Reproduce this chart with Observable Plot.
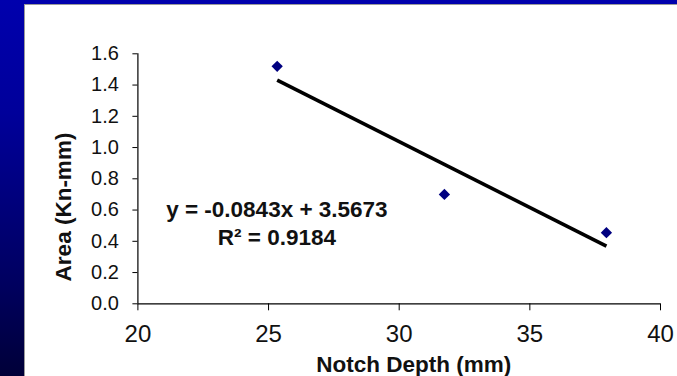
<!DOCTYPE html>
<html>
<head>
<meta charset="utf-8">
<script src="https://cdn.jsdelivr.net/npm/d3@7"></script>
<script src="https://cdn.jsdelivr.net/npm/@observablehq/plot@0.6"></script>
<style>
  html, body { margin: 0; padding: 0; }
  body {
    width: 677px; height: 376px; overflow: hidden; position: relative;
    background: linear-gradient(to bottom, #0000ad 0%, #00009a 30%, #000060 75%, #000038 100%);
    font-family: "Liberation Sans", Arial, sans-serif;
  }
  #panel {
    position: absolute; left: 24px; top: 4px; width: 653px; height: 372px;
    box-sizing: border-box; background: #fff;
    border-top: 1px solid #9a9a9a; border-left: 1px solid #9a9a9a;
  }
  #panel svg { display: block; }
</style>
</head>
<body>
<div id="panel"></div>
<script>
// Measured specimens: notch depth vs. absorbed area
const notchDepth = [25.33, 31.73, 37.93];
const area = [1.52, 0.70, 0.455];

// Linear trendline as reported
const slope = -0.0843;
const intercept = 3.5673;
const rSquared = 0.9184;

const xTicks = [20, 25, 30, 35, 40];
const yTicks = [0, 0.2, 0.4, 0.6, 0.8, 1.0, 1.2, 1.4, 1.6];
const xLabel = "Notch Depth (mm)";
const yLabel = "Area (Kn-mm)";

const points = notchDepth.map((d, i) => ({depth: d, area: area[i]}));
const trend = d3.extent(notchDepth).map(d => ({depth: d, area: slope * d + intercept}));
const eqText = `y = ${slope.toFixed(4)}x + ${intercept.toFixed(4)}\nR\u00B2 = ${rSquared.toFixed(4)}`;

const font = "'Liberation Sans', Arial, sans-serif";
const xDomain = [xTicks[0], xTicks[xTicks.length - 1]];
const yDomain = [yTicks[0], yTicks[yTicks.length - 1]];

const chart = Plot.plot({
  width: 652,
  height: 371,
  marginLeft: 112.4,
  marginRight: 17,
  marginTop: 48.3,
  marginBottom: 72.7,
  style: {background: "transparent", fontFamily: font, color: "#000", overflow: "visible"},
  x: {domain: xDomain},
  y: {domain: yDomain},
  marks: [
    Plot.axisY({ticks: yTicks, tickFormat: d3.format(".1f"), tickSize: 5, tickPadding: 14,
      fontSize: 20, label: null, stroke: "#000", fill: "#111"}),
    Plot.axisX({ticks: xTicks, tickFormat: d3.format("d"), tickSize: 7, tickPadding: 14,
      fontSize: 24, label: null, stroke: "#000", fill: "#111"}),
    // axis lines
    Plot.ruleX([xDomain[0]], {stroke: "#000", strokeWidth: 1.2}),
    Plot.ruleY([yDomain[0]], {stroke: "#000", strokeWidth: 1.2}),
    Plot.text([yLabel], {frameAnchor: "left", text: d => d, rotate: -90, dx: -74.5, dy: 28.2,
      fontSize: 22.5, fontWeight: "bold", fill: "#111", textAnchor: "middle", lineAnchor: "middle"}),
    Plot.text([xLabel], {frameAnchor: "bottom", text: d => d, dx: 14.5, dy: 61,
      fontSize: 22.5, fontWeight: "bold", fill: "#111", textAnchor: "middle", lineAnchor: "middle"}),
    Plot.line(trend, {x: "depth", y: "area", stroke: "#000", strokeWidth: 3.6, strokeLinecap: "butt"}),
    Plot.dot(points, {x: "depth", y: "area", symbol: "diamond2", r: 5.1, fill: "#000080", stroke: "none"}),
    Plot.text([eqText], {frameAnchor: "top-left", text: d => d, dx: 139, dy: 144,
      fontSize: 22.5, fontWeight: "bold", fill: "#111", textAnchor: "middle", lineAnchor: "top", lineHeight: 1.22})
  ]
});

document.getElementById("panel").appendChild(chart);
</script>
</body>
</html>
